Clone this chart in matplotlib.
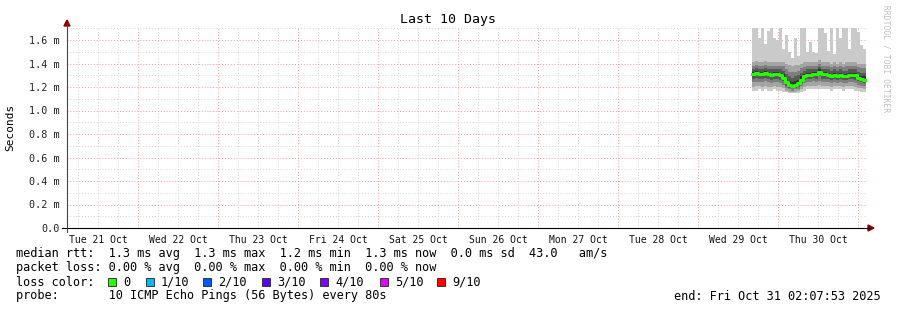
import numpy as np
import pandas as pd
import matplotlib
matplotlib.use("Agg")
import matplotlib.pyplot as plt
import matplotlib.dates as mdates
from matplotlib.patches import Rectangle, Polygon
from matplotlib.lines import Line2D

W, H = 897, 310
MONO = "DejaVu Sans Mono"

# --- data (ms), one entry per ~54 min step, 10 sorted pings per step ---
t_start = "2025-10-29 16:12:00"
x_from, x_to = "2025-10-21 02:42:00", "2025-10-31 02:42:00"

median = [1.31, 1.32, 1.31, 1.31, 1.32, 1.31, 1.30, 1.31, 1.31, 1.30, 1.28, 1.24, 1.22,
          1.21, 1.22, 1.23, 1.26, 1.29, 1.30, 1.30, 1.31, 1.31, 1.33, 1.31, 1.31, 1.30,
          1.29, 1.30, 1.29, 1.30, 1.29, 1.29, 1.30, 1.30, 1.30, 1.28, 1.27, 1.26]
p1 = [1.17, 1.17, 1.18, 1.17, 1.18, 1.17, 1.17, 1.18, 1.17, 1.17, 1.16, 1.16, 1.15,
      1.15, 1.15, 1.15, 1.16, 1.17, 1.18, 1.18, 1.18, 1.18, 1.18, 1.18, 1.18, 1.18,
      1.17, 1.18, 1.18, 1.18, 1.17, 1.18, 1.18, 1.18, 1.17, 1.17, 1.16, 1.16]
p2 = [1.20, 1.21, 1.21, 1.20, 1.21, 1.20, 1.20, 1.21, 1.20, 1.20, 1.19, 1.17, 1.16,
      1.16, 1.16, 1.17, 1.18, 1.20, 1.21, 1.21, 1.21, 1.21, 1.22, 1.21, 1.21, 1.21,
      1.20, 1.21, 1.21, 1.21, 1.20, 1.21, 1.21, 1.21, 1.20, 1.19, 1.19, 1.18]
p3 = [1.24, 1.24, 1.24, 1.24, 1.25, 1.24, 1.23, 1.24, 1.24, 1.23, 1.22, 1.19, 1.18,
      1.17, 1.18, 1.18, 1.21, 1.23, 1.24, 1.24, 1.25, 1.24, 1.25, 1.24, 1.24, 1.24,
      1.23, 1.24, 1.23, 1.24, 1.23, 1.23, 1.24, 1.24, 1.23, 1.22, 1.21, 1.21]
p4 = [1.27, 1.28, 1.27, 1.27, 1.28, 1.27, 1.26, 1.27, 1.27, 1.26, 1.25, 1.21, 1.19,
      1.19, 1.19, 1.20, 1.23, 1.26, 1.27, 1.27, 1.28, 1.27, 1.29, 1.27, 1.27, 1.27,
      1.26, 1.27, 1.26, 1.27, 1.26, 1.26, 1.27, 1.27, 1.26, 1.25, 1.24, 1.23]
p5 = [1.30, 1.31, 1.30, 1.30, 1.31, 1.30, 1.29, 1.30, 1.30, 1.29, 1.27, 1.23, 1.21,
      1.20, 1.21, 1.22, 1.25, 1.28, 1.29, 1.29, 1.30, 1.30, 1.32, 1.30, 1.30, 1.29,
      1.28, 1.29, 1.28, 1.29, 1.28, 1.28, 1.29, 1.29, 1.29, 1.27, 1.26, 1.25]
p6 = [1.33, 1.34, 1.33, 1.33, 1.34, 1.33, 1.32, 1.33, 1.33, 1.32, 1.31, 1.27, 1.25,
      1.24, 1.25, 1.26, 1.29, 1.31, 1.32, 1.32, 1.33, 1.33, 1.35, 1.33, 1.33, 1.32,
      1.31, 1.32, 1.31, 1.32, 1.31, 1.31, 1.32, 1.32, 1.32, 1.30, 1.29, 1.29]
p7 = [1.35, 1.36, 1.35, 1.35, 1.36, 1.35, 1.35, 1.35, 1.35, 1.35, 1.34, 1.31, 1.29,
      1.28, 1.29, 1.30, 1.32, 1.34, 1.35, 1.35, 1.35, 1.35, 1.37, 1.35, 1.35, 1.35,
      1.34, 1.35, 1.34, 1.35, 1.34, 1.34, 1.35, 1.35, 1.35, 1.33, 1.32, 1.32]
p8 = [1.38, 1.39, 1.38, 1.38, 1.39, 1.38, 1.38, 1.38, 1.38, 1.38, 1.38, 1.35, 1.33,
      1.33, 1.33, 1.34, 1.36, 1.37, 1.38, 1.38, 1.38, 1.38, 1.40, 1.38, 1.38, 1.38,
      1.37, 1.38, 1.37, 1.38, 1.37, 1.38, 1.38, 1.38, 1.38, 1.37, 1.36, 1.36]
p9 = [1.41, 1.42, 1.41, 1.41, 1.42, 1.41, 1.41, 1.41, 1.41, 1.41, 1.41, 1.40, 1.39,
      1.38, 1.39, 1.39, 1.40, 1.41, 1.41, 1.41, 1.41, 1.41, 1.43, 1.41, 1.41, 1.41,
      1.40, 1.41, 1.40, 1.41, 1.40, 1.41, 1.41, 1.41, 1.41, 1.40, 1.40, 1.40]
p10 = [1.70, 1.70, 1.62, 1.70, 1.57, 1.68, 1.70, 1.62, 1.60, 1.70, 1.52, 1.64, 1.50,
       1.45, 1.62, 1.46, 1.70, 1.70, 1.50, 1.58, 1.50, 1.49, 1.70, 1.70, 1.66, 1.51,
       1.70, 1.48, 1.70, 1.62, 1.70, 1.70, 1.52, 1.70, 1.70, 1.67, 1.56, 1.52]

y_ticks = [0.0, 0.2, 0.4, 0.6, 0.8, 1.0, 1.2, 1.4, 1.6]
y_labels = ["0.0", "0.2 m", "0.4 m", "0.6 m", "0.8 m", "1.0 m", "1.2 m", "1.4 m", "1.6 m"]

loss_labels = ["0", "1/10", "2/10", "3/10", "4/10", "5/10", "9/10"]
loss_colors = ["#26ff00", "#00b8ff", "#0059ff", "#5e00ff", "#7e00ff", "#dd00ff", "#ff0000"]
loss_x = [108, 146, 203, 262, 320, 380, 437]

rtt_line = "median rtt:  1.3 ms avg  1.3 ms max  1.2 ms min  1.3 ms now  0.0 ms sd  43.0   am/s"
loss_line = "packet loss: 0.00 % avg  0.00 % max  0.00 % min  0.00 % now"
probe_line = "probe:       10 ICMP Echo Pings (56 Bytes) every 80s"
end_line = "end: Fri Oct 31 02:07:53 2025"


def fx(x):
    return x / W


def fy(y):
    return 1 - y / H


fig = plt.figure(figsize=(W / 100, H / 100), dpi=100)
fig.patch.set_facecolor("white")
ax = fig.add_axes([fx(67), fy(228), 800 / W, 199.75 / H])
ax.set_facecolor("white")
for s in ax.spines.values():
    s.set_visible(False)

t0 = pd.Timestamp(x_from)
t1 = pd.Timestamp(x_to)
ax.set_xlim(mdates.date2num(t0), mdates.date2num(t1))
ax.set_ylim(0, 1.7)

# grid
minor_t = pd.date_range("2025-10-21 06:00", "2025-10-31 00:00", freq="6h")
for t in minor_t:
    xv = mdates.date2num(t)
    if t.hour == 0:
        ax.axvline(xv, color="#ff9a9a", lw=0.7, ls=(0, (1, 2)), zorder=1)
    else:
        ax.axvline(xv, color="#d4d4d4", lw=0.7, ls=(0, (1, 2)), zorder=1)
for i in range(1, 18):
    yv = i / 10
    if i % 2 == 0:
        ax.axhline(yv, color="#ff9a9a", lw=0.7, ls=(0, (1, 2)), zorder=1)
    else:
        ax.axhline(yv, color="#d4d4d4", lw=0.7, ls=(0, (1, 2)), zorder=1)

# smoke
times = pd.date_range(t_start, periods=len(median), freq="54min")
edges = np.append(mdates.date2num(times), mdates.date2num(times[-1] + pd.Timedelta("54min")))
pings = [p1, p2, p3, p4, p5, p6, p7, p8, p9, p10]
for k in range(9):
    g = int(190 / 5 * abs(4 - k)) + 50
    col = "#%02x%02x%02x" % (g, g, g)
    lo = np.append(pings[k], pings[k][-1])
    hi = np.append(pings[k + 1], pings[k + 1][-1])
    ax.fill_between(edges, lo, hi, step="post", color=col, lw=0, zorder=2)

med = np.append(median, median[-1])
ax.step(edges, med, where="post", color=loss_colors[0], lw=2.2, zorder=3)

# ticks
ax.set_yticks(y_ticks)
ax.set_yticklabels(y_labels, family=MONO, fontsize=7.3, color="#222222")
noon = pd.date_range("2025-10-21 12:00", "2025-10-30 12:00", freq="1D")
ax.set_xticks(mdates.date2num(noon))
ax.set_xticklabels([t.strftime("%a %d %b") for t in noon], family=MONO, fontsize=7,
                   color="#111111")
ax.tick_params(axis="both", length=0)
ax.tick_params(axis="x", pad=5)
ax.tick_params(axis="y", pad=5)

# axis lines and arrows
fig.add_artist(Line2D([fx(62), fx(870)], [fy(228), fy(228)], color="black", lw=0.8))
fig.add_artist(Line2D([fx(67), fx(67)], [fy(232), fy(24)], color="#444444", lw=0.8))
fig.add_artist(Polygon([(fx(64), fy(26)), (fx(70), fy(26)), (fx(67), fy(20))],
                       closed=True, color="#900000", transform=fig.transFigure))
fig.add_artist(Polygon([(fx(868), fy(225)), (fx(868), fy(231)), (fx(874), fy(228))],
                       closed=True, color="#900000", transform=fig.transFigure))

# titles
fig.text(fx(448), fy(19), "Last 10 Days", family=MONO, fontsize=9.5, ha="center",
         va="center", color="black")
fig.text(fx(10), fy(127), "Seconds", family=MONO, fontsize=8, rotation=90,
         ha="center", va="center", color="black")
fig.text(fx(886), fy(5), "RRDTOOL / TOBI OETIKER", family=MONO, fontsize=5.8,
         rotation=270, ha="center", va="top", color="#c0c0c0")

# legend
fs = 8.55
fig.text(fx(16), fy(254), rtt_line, family=MONO, fontsize=fs, va="center")
fig.text(fx(16), fy(268), loss_line, family=MONO, fontsize=fs, va="center")
fig.text(fx(16), fy(282), "loss color:", family=MONO, fontsize=fs, va="center")
for xs, c, lab in zip(loss_x, loss_colors, loss_labels):
    fig.add_artist(Rectangle((fx(xs), fy(286)), 8 / W, 8 / H, facecolor=c,
                             edgecolor="#222222", lw=0.6, transform=fig.transFigure))
    fig.text(fx(xs + 15), fy(282), lab, family=MONO, fontsize=fs, va="center")
fig.text(fx(16), fy(296), probe_line, family=MONO, fontsize=fs, va="center")
fig.text(fx(881), fy(296), end_line, family=MONO, fontsize=fs, va="center", ha="right")

fig.savefig("out.png", dpi=100)
